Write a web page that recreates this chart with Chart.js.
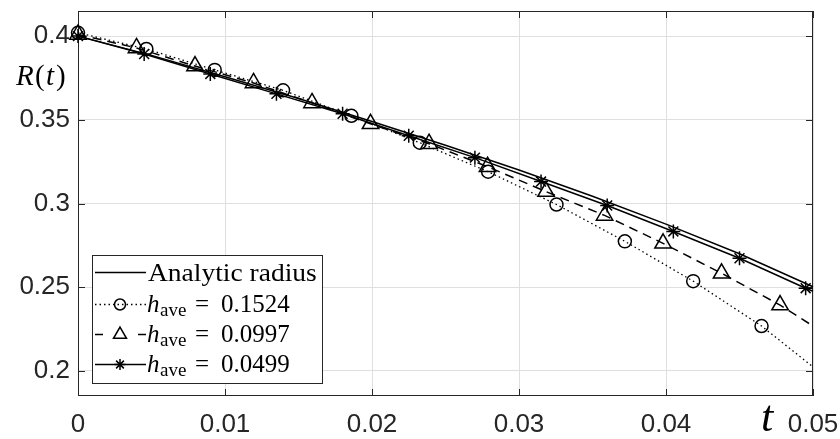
<!DOCTYPE html>
<html><head><meta charset="utf-8">
<script src="https://cdn.jsdelivr.net/npm/chart.js@4/dist/chart.umd.min.js"></script>
<style>html,body{margin:0;padding:0;background:#fff;}#wrap{position:relative;width:840px;height:439px;}</style>
</head><body><div id="wrap"><canvas id="c" width="840" height="439"></canvas></div>
<script>
// ---- data ----
const tAnalytic = [0, 0.005, 0.01, 0.015, 0.02, 0.025, 0.03, 0.035, 0.04, 0.045, 0.05];
const rAnalytic = [0.400, 0.3885, 0.3757, 0.3627, 0.3490, 0.3348, 0.3200, 0.3043, 0.2877, 0.2700, 0.2503];

const tCoarse = [0, 0.00465, 0.0093, 0.01395, 0.0186, 0.02325, 0.0279, 0.03255, 0.0372, 0.04185, 0.0465, 0.05];
const rCoarse = [0.402, 0.3923, 0.3798, 0.3676, 0.3524, 0.3363, 0.3190, 0.2994, 0.2774, 0.2536, 0.2268, 0.2024];

const tMedium = [0, 0.00398, 0.00796, 0.01194, 0.01592, 0.0199, 0.02388, 0.02786, 0.03184, 0.03582, 0.0398, 0.04378, 0.04776, 0.05];
const rMedium = [0.401, 0.3929, 0.3821, 0.3720, 0.3601, 0.3476, 0.3357, 0.3220, 0.3071, 0.2929, 0.2762, 0.2583, 0.2393, 0.2268];

const tFine = [0, 0.0045, 0.009, 0.0135, 0.018, 0.0225, 0.027, 0.0315, 0.036, 0.0405, 0.045, 0.0495, 0.05];
const rFine = [0.400, 0.3893, 0.3774, 0.3655, 0.3536, 0.3405, 0.3274, 0.3131, 0.2988, 0.2833, 0.2673, 0.2494, 0.2476];

const xTicks = [0, 0.01, 0.02, 0.03, 0.04, 0.05];
const xTickLabels = ['0', '0.01', '0.02', '0.03', '0.04', '0.05'];
const yTicks = [0.2, 0.25, 0.3, 0.35, 0.4];
const yTickLabels = ['0.2', '0.25', '0.3', '0.35', '0.4'];

const legendFirst = 'Analytic radius';
const hValues = ['0.1524', '0.0997', '0.0499'];
const xTitle = 't';

// ---- styling ----
const AX = '#262626';
const GRID = '#dfdfdf';
const pts = (t, r) => t.map((v, i) => ({x: v, y: r[i]}));
const lastHidden = (R) => (ctx) => ctx.dataIndex === ctx.dataset.data.length - 1 ? 0 : R;

const boxPlugin = {
  id: 'box',
  beforeDatasetsDraw(chart) {
    const {ctx, chartArea: a, scales: {x, y}} = chart;
    ctx.save();
    ctx.strokeStyle = AX; ctx.lineWidth = 1;
    ctx.strokeRect(a.left + 0.5, a.top + 0.5, a.right - a.left - 1, a.bottom - a.top - 1);
    const L = 7;
    ctx.beginPath();
    xTicks.forEach(v => {
      const px = Math.round(x.getPixelForValue(v)) + 0.5;
      ctx.moveTo(px, a.bottom); ctx.lineTo(px, a.bottom - L);
      ctx.moveTo(px, a.top); ctx.lineTo(px, a.top + L);
    });
    yTicks.forEach(v => {
      const py = Math.round(y.getPixelForValue(v)) + 0.5;
      ctx.moveTo(a.left, py); ctx.lineTo(a.left + L, py);
      ctx.moveTo(a.right, py); ctx.lineTo(a.right - L, py);
    });
    ctx.stroke();
    ctx.restore();
  },
  afterDatasetsDraw(chart) {
    const ctx = chart.ctx;
    ctx.save();
    // legend box
    const bx = 92, by = 255, bw = 230, bh = 128;
    ctx.fillStyle = '#fff';
    ctx.fillRect(bx, by, bw, bh);
    ctx.strokeStyle = AX; ctx.lineWidth = 1;
    ctx.strokeRect(bx + 0.5, by + 0.5, bw, bh);
    const rows = [272, 304, 334, 364];
    const styles = [
      {segs: [[95, 146]], dash: [], marker: null},
      {segs: [[95, 146]], dash: [1.5, 3], marker: {pointStyle: 'circle', radius: 5.5}},
      {segs: [[95, 103], [138, 146]], dash: [], marker: {pointStyle: 'triangle', radius: 7.5}},
      {segs: [[95, 146]], dash: [], marker: {pointStyle: 'star', radius: 5.5}}
    ];
    styles.forEach((s, i) => {
      const yy = rows[i] + 0.5;
      ctx.strokeStyle = '#000';
      ctx.lineWidth = 1.4;
      ctx.setLineDash(s.dash);
      ctx.beginPath();
      s.segs.forEach(([a, b]) => { ctx.moveTo(a, yy); ctx.lineTo(b, yy); });
      ctx.stroke();
      ctx.setLineDash([]);
      if (s.marker) {
        ctx.fillStyle = 'rgba(0,0,0,0)';
        ctx.lineWidth = 1.5;
        Chart.helpers.drawPoint(ctx, {pointStyle: s.marker.pointStyle, radius: s.marker.radius, rotation: 0, borderWidth: 1.5}, 120, yy);
      }
    });
    ctx.fillStyle = '#000';
    ctx.textBaseline = 'alphabetic';
    ctx.textAlign = 'left';
    // row 1
    ctx.save();
    ctx.font = '25px "Liberation Serif"';
    ctx.translate(148, 281);
    ctx.scale(1.1, 1);
    ctx.fillText(legendFirst, 0, 0);
    ctx.restore();
    const bases = [312, 342, 372];
    hValues.forEach((hv, i) => {
      const b = bases[i];
      ctx.font = 'italic 25px "Liberation Serif"';
      ctx.fillText('h', 147, b);
      ctx.font = '19px "Liberation Serif"';
      ctx.fillText('ave', 160, b + 4);
      ctx.font = '25px "Liberation Serif"';
      ctx.fillText('=', 195, b);
      ctx.fillText(hv, 221, b);
    });
    ctx.restore();
  },
  afterDraw(chart) {
    const ctx = chart.ctx;
    ctx.save();
    ctx.fillStyle = '#000';
    ctx.textBaseline = 'alphabetic';
    ctx.textAlign = 'left';
    // y title R(t)
    ctx.font = 'italic 29px "Liberation Serif"';
    ctx.fillText('R', 16, 85);
    ctx.font = '29px "Liberation Serif"';
    ctx.fillText('(', 35, 85);
    ctx.font = 'italic 29px "Liberation Serif"';
    ctx.fillText('t', 46, 85);
    ctx.font = '29px "Liberation Serif"';
    ctx.fillText(')', 56, 85);
    // x title t
    ctx.font = 'italic 44px "Liberation Serif"';
    ctx.fillText(xTitle, 761, 431);
    ctx.restore();
  }
};

const tickFont = {family: '"Liberation Sans", Arial, sans-serif', size: 26};

new Chart(document.getElementById('c'), {
  type: 'line',
  data: {
    datasets: [
      {label: legendFirst, data: pts(tAnalytic, rAnalytic), borderColor: '#000', borderWidth: 1.5, pointRadius: 0, clip: false},
      {label: 'h_ave = ' + hValues[0], data: pts(tCoarse, rCoarse), borderColor: '#000', borderWidth: 1.3, borderDash: [1.5, 3],
        pointStyle: 'circle', pointRadius: lastHidden(6.5), pointBorderColor: '#000', pointBackgroundColor: 'rgba(0,0,0,0)', pointBorderWidth: 1.5, clip: false},
      {label: 'h_ave = ' + hValues[1], data: pts(tMedium, rMedium), borderColor: '#000', borderWidth: 1.5, borderDash: [9, 6],
        pointStyle: 'triangle', pointRadius: lastHidden(9.5), pointBorderColor: '#000', pointBackgroundColor: 'rgba(0,0,0,0)', pointBorderWidth: 1.5, clip: false},
      {label: 'h_ave = ' + hValues[2], data: pts(tFine, rFine), borderColor: '#000', borderWidth: 1.5,
        pointStyle: 'star', pointRadius: lastHidden(7), pointBorderColor: '#000', pointBackgroundColor: 'rgba(0,0,0,0)', pointBorderWidth: 1.5, clip: false}
    ]
  },
  options: {
    responsive: false,
    animation: false,
    layout: {padding: {top: 10, right: 27, left: 0, bottom: 0}},
    plugins: {legend: {display: false}, tooltip: {enabled: false}},
    elements: {line: {tension: 0}, point: {hoverRadius: 0}},
    scales: {
      x: {
        type: 'linear', min: 0, max: 0.05,
        afterBuildTicks: s => { s.ticks = xTicks.map(v => ({value: v})); },
        afterFit: s => { s.height = 43; s.paddingLeft = 0; s.paddingRight = 0; },
        ticks: {callback: (v, i) => xTickLabels[i], font: tickFont, color: AX, padding: 13, maxRotation: 0, autoSkip: false},
        grid: {color: GRID, lineWidth: 1, drawTicks: false, tickLength: 0},
        border: {display: false}
      },
      y: {
        type: 'linear', min: 0.185, max: 0.415,
        afterBuildTicks: s => { s.ticks = yTicks.map(v => ({value: v})); },
        afterFit: s => { s.width = 78; s.paddingTop = 0; s.paddingBottom = 0; },
        ticks: {callback: (v, i) => yTickLabels[i], font: tickFont, color: AX, padding: 8, autoSkip: false},
        grid: {color: GRID, lineWidth: 1, drawTicks: false, tickLength: 0},
        border: {display: false}
      }
    }
  },
  plugins: [boxPlugin]
});
</script>
</body></html>
